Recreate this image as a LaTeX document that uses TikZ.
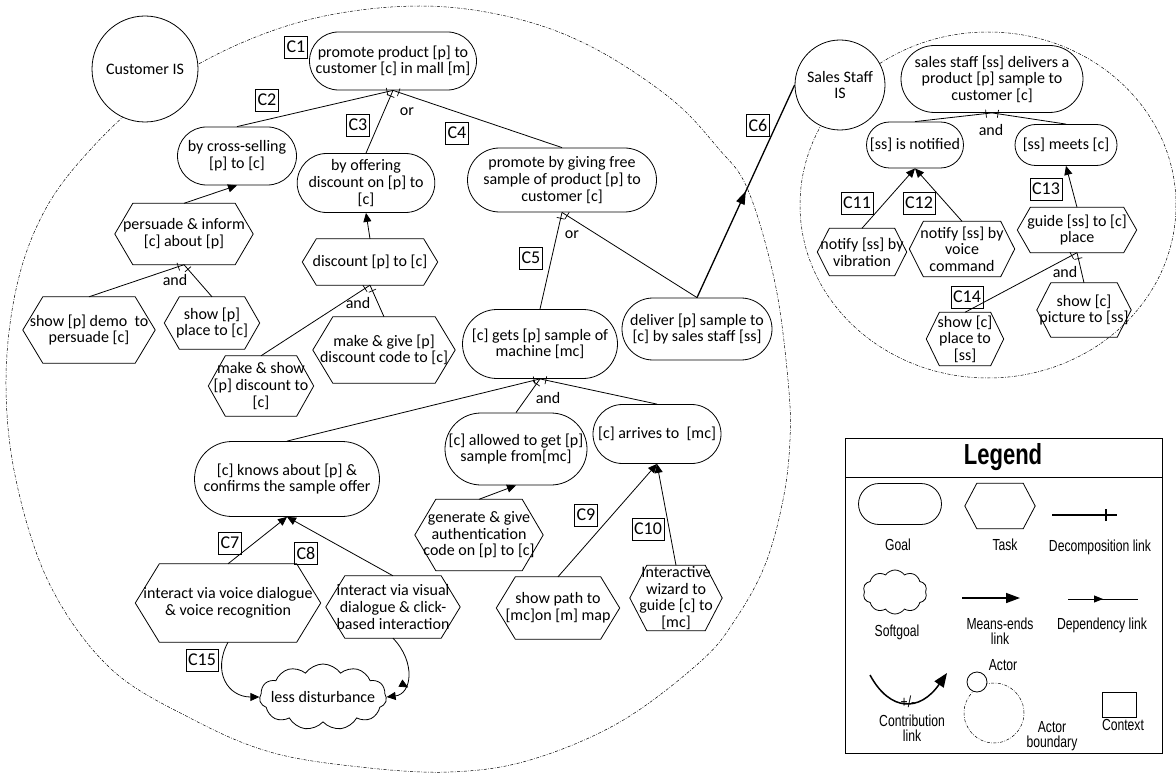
\documentclass[tikz,border=0pt]{standalone}
\usepackage{fontspec}
\setmainfont{Carlito}
\newfontfamily\legfont[FakeStretch=0.76]{Liberation Sans}
\usetikzlibrary{shapes.misc,shapes.symbols,arrows.meta,decorations.markings}
\newcommand{\mainf}{\fontsize{16}{16.6}\selectfont}
\newcommand{\ctxf}{\fontsize{18}{20}\selectfont}
\newcommand{\legf}{\legfont\fontsize{16}{15.5}\selectfont}
\newcommand{\legb}{\legfont\bfseries\fontsize{29}{30}\selectfont}
\newcommand{\taskhex}[2]{\draw[line width=0.8pt] (#1.west) -- ([xshift=#2pt]#1.north west) -- ([xshift=-#2pt]#1.north east) -- (#1.east) -- ([xshift=-#2pt]#1.south east) -- ([xshift=#2pt]#1.south west) -- cycle;}
\begin{document}
\begin{tikzpicture}[x=1pt,y=-1pt,
 wh/.style 2 args={minimum width=#1pt, minimum height=#2pt},
 goal/.style={rounded rectangle, draw, line width=0.8pt, align=center, inner sep=0pt, font=\mainf},
 task/.style={rectangle, align=center, inner sep=0pt, font=\mainf},
 ctx/.style={draw, line width=0.8pt, rectangle, inner xsep=2pt, inner ysep=0pt, minimum height=22pt, font=\ctxf},
 lbl/.style={inner sep=0pt, font=\mainf},
 actor/.style={circle, draw, line width=0.8pt, fill=white, align=center, inner sep=0pt, font=\mainf},
 link/.style={line width=0.8pt},
 means/.style={link, -{Triangle[length=9pt,width=8pt]}},
 decomp/.style={link, postaction={decorate}, decoration={markings, mark=at position -6pt with {\draw[line width=0.7pt] (0,-4pt) -- (0,4pt);}}},
 depmid/.style={postaction={decorate}, decoration={markings, mark=at position 0.5 with {\arrow{Triangle[length=13pt,width=9pt]}}}},
 bound/.style={line width=0.5pt, dash pattern=on 3pt off 1.5pt on 0.7pt off 1.5pt},
 legt/.style={inner sep=0pt, align=center, font=\legf},
]
\useasboundingbox (0,0) rectangle (1176,778);
% actor boundaries
\draw[bound] plot[smooth cycle, tension=0.6] coordinates {(420,6) (510,17) (590,46) (670,98) (718,148) (748,190) (775,283) (788,380) (790,440) (783,500) (765,565) (735,620) (700,662) (620,722) (530,760) (450,772) (360,767) (270,752) (190,718) (110,668) (50,585) (16,480) (6,380) (17,285) (45,210) (90,150) (150,95) (230,48) (320,17)};
\draw[bound] (988,205) ellipse [x radius=188, y radius=173];
% actors
\node[actor, minimum size=106pt] (cis) at (145,69) {Customer IS};
\node[actor, minimum size=90pt] (ssis) at (840,85) {Sales Staff\\IS};
% goals
\node[goal, wh={167}{58}] (g1) at (393,61) {promote product [p] to\\customer [c] in mall [m]};
\node[goal, wh={119}{58}] (g2) at (237,156) {by cross-selling\\{}[p] to [c]};
\node[goal, wh={127}{59}] (g3) at (366,183) {by offering\\discount on [p] to\\{}[c]};
\node[goal, wh={189}{64}] (g4) at (562,180) {promote by giving free\\sample of product [p] to\\customer [c]};
\node[goal, wh={155}{69}] (g5) at (540,344) {[c] gets [p] sample of\\machine [mc]};
\node[goal, wh={150}{62}] (g6) at (697,329) {deliver [p] sample to\\{}[c] by sales staff [ss]};
\node[goal, wh={185}{75}] (g7) at (287,479) {[c] knows about [p] \&\\confirms the sample offer};
\node[goal, wh={142}{72}] (g8) at (516,449) {[c] allowed to get [p]\\sample from[mc]};
\node[goal, wh={128}{59}] (g9) at (657,434) {[c] arrives to~~[mc]};
\node[goal, wh={182}{67}] (g10) at (992,79) {sales staff [ss] delivers a\\product [p] sample to\\customer [c]};
\node[goal, wh={97}{46}] (g11) at (915,145) {[ss] is notified};
\node[goal, wh={102}{41}] (g12) at (1066,145) {[ss] meets [c]};
% tasks
\node[task, wh={138}{61}] (t1) at (184,234) {persuade \& inform\\{}[c] about [p]};
\node[task, wh={132}{66}] (t2) at (89,330) {show [p] demo~~to\\persuade [c]};
\node[task, wh={95}{52}] (t3) at (212,323) {show [p]\\place to [c]};
\node[task, wh={135}{46}] (t4) at (370,262) {discount [p] to [c]};
\node[task, wh={105}{60}] (t5) at (261,386) {make \& show\\{}[p] discount to\\{}[c]};
\node[task, wh={142}{66}] (t6) at (384,350) {make \& give [p]\\discount code to [c]};
\node[task, wh={128}{71}] (t7) at (479,535) {generate \& give\\authentication\\code on [p] to [c]};
\node[task, wh={123}{62}] (t8) at (558,608) {show path to\\{}[mc]on [m] map};
\node[task, wh={92}{65}] (t9) at (676,598) {Interactive\\wizard to\\guide [c] to\\{}[mc]};
\node[task, wh={185}{78}] (t10) at (228,603) {interact via voice dialogue\\\& voice recognition};
\node[task, wh={134}{62}] (t11) at (393,607) {interact via visual\\dialogue \& click-\\based interaction};
\node[task, wh={89}{47}] (t12) at (862,252) {notify [ss] by\\vibration};
\node[task, wh={105}{55}] (t13) at (962,249) {notify [ss] by\\voice\\command};
\node[task, wh={119}{45}] (t14) at (1077,230) {guide [ss] to [c]\\place};
\node[task, wh={77}{53}] (t15) at (965,339) {show [c]\\place to\\{}[ss]};
\node[task, wh={94}{54}] (t16) at (1084,310) {show [c]\\picture to [ss]};
\foreach \n/\d in {t1/18,t2/20,t3/15,t4/14,t5/17,t6/20,t7/21,t8/19,t9/17,t10/24,t11/19,t12/12,t13/14,t14/13,t15/13,t16/14}{\taskhex{\n}{\d}}
% softgoal
\node[cloud, draw, line width=0.8pt, cloud puffs=11, cloud puff arc=110, cloud ignores aspect, inner sep=0pt, wh={127}{66}, label={[font=\mainf, inner sep=0pt]center:less disturbance}] (s1) at (323,697) {};
% contexts
\node[ctx] (c1) at (296,47) {C1};
\node[ctx] (c2) at (267,100) {C2};
\node[ctx] (c3) at (358,125) {C3};
\node[ctx] (c4) at (457,133) {C4};
\node[ctx] (c5) at (531,258) {C5};
\node[ctx] (c6) at (758,125) {C6};
\node[ctx] (c7) at (230,543) {C7};
\node[ctx] (c8) at (306,553) {C8};
\node[ctx] (c9) at (586,515) {C9};
\node[ctx] (c10) at (648,529) {C10};
\node[ctx] (c11) at (857,203) {C11};
\node[ctx] (c12) at (919,203) {C12};
\node[ctx] (c13) at (1046,189) {C13};
\node[ctx] (c14) at (967,297) {C14};
\node[ctx] (c15) at (202,660) {C15};
% labels
\node[lbl] (or1) at (407,112) {or};
\node[lbl] (or2) at (572,235) {or};
\node[lbl] (and1) at (175,280) {and};
\node[lbl] (and2) at (358,303) {and};
\node[lbl] (and3) at (548,398) {and};
\node[lbl] (and4) at (991,130) {and};
\node[lbl] (and5) at (1065,272) {and};
% decomposition links
\foreach \c/\p in {g2/g1,g3/g1,g4/g1,t2/t1,t3/t1,t5/t4,t6/t4,g5/g4,g6/g4,g7/g5,g8/g5,g9/g5,g11/g10,g12/g10,t15/t14,t16/t14}{\draw[decomp] (\c.north) -- (\p.south);}
% means-ends links
\foreach \c/\p in {t1/g2,t4/g3,t7/g8,t8/g9,t9/g9,t10/g7,t11/g7,t12/g11,t13/g11,t14/g12}{\draw[means] (\c.north) -- (\p.south);}
% dependency
\draw[line width=1.3pt, depmid] (g6.north) -- (ssis.west);
% contributions
\draw[means] (t10.south) .. controls (212,672) and (228,697) .. (s1.west);
\draw[means, postaction={decorate}, decoration={markings, mark=at position 0.7 with {\draw[line width=0.7pt] (0,-4pt) -- (0,4pt);}}] (t11.south) .. controls (416,662) and (412,694) .. (s1.east);
% legend
\draw[line width=0.8pt] (845,438) rectangle (1162,753);
\draw[line width=0.8pt] (845,477) -- (1162,477);
\node[inner sep=0pt, font=\legb] (ltitle) at (1003,457) {Legend};
\node[goal, wh={83}{41}] (lgoal) at (900,504) {};
\node[legt] (lgoall) at (898,545) {Goal};
\node[task, wh={70}{45}] (ltask) at (1000,506) {};
\taskhex{ltask}{12}
\node[legt] (ltaskl) at (1005,545) {Task};
\coordinate (ld1) at (1052,515);
\coordinate (ld2) at (1117,515);
\draw[line width=1.2pt, postaction={decorate}, decoration={markings, mark=at position -11pt with {\draw[line width=1.2pt] (0,-6pt) -- (0,6pt);}}] (ld1) -- (ld2);
\node[legt] (ldl) at (1100,547) {Decomposition link};
\node[cloud, draw, line width=0.8pt, cloud puffs=10, cloud puff arc=110, aspect=1.4, inner sep=0pt, wh={64}{44}] (lsoft) at (895,592) {};
\node[legt] (lsoftl) at (897,632) {Softgoal};
\coordinate (lm1) at (962,598);
\coordinate (lm2) at (1020,598);
\draw[line width=1.5pt, -{Triangle[length=14pt,width=10pt]}] (lm1) -- (lm2);
\node[legt] (lml) at (1000,631) {Means-ends\\link};
\coordinate (ldp1) at (1068,599);
\coordinate (ldp2) at (1138,599);
\draw[line width=1pt, postaction={decorate}, decoration={markings, mark=at position 0.5 with {\arrow{Triangle[length=9pt,width=7pt]}}}] (ldp1) -- (ldp2);
\node[legt] (ldpl) at (1102,625) {Dependency link};
\coordinate (lc1) at (870,675);
\coordinate (lc2) at (947,673);
\draw[line width=1.5pt, -{Triangle[length=14pt,width=11pt]}] (lc1) .. controls (890,712) and (920,712) .. (lc2);
\node[legt] (lcpm) at (908,702) {+/-};
\node[legt] (lcl) at (912,728) {Contribution\\link};
\node[circle, draw, bound, minimum size=60pt, inner sep=0pt] (lbound) at (994,713) {};
\node[circle, draw, line width=0.8pt, fill=white, minimum size=20pt, inner sep=0pt] (lactor) at (977,682) {};
\node[legt] (lactorl) at (1003,665) {Actor};
\node[legt] (lboundl) at (1052,736) {Actor\\boundary};
\node[draw, line width=0.8pt, minimum width=34pt, minimum height=25pt, inner sep=0pt] (lctx) at (1119,705) {};
\node[legt] (lctxl) at (1123,725) {Context};
\end{tikzpicture}
\end{document}
